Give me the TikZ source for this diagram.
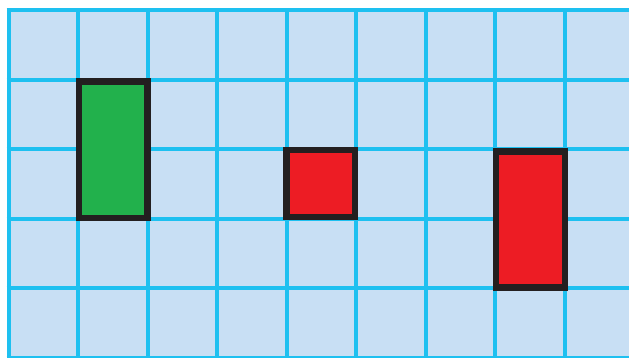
\documentclass[tikz,border=0pt]{standalone}
\definecolor{cellfill}{HTML}{C8DFF4}
\definecolor{gridline}{HTML}{1EC0F0}
\definecolor{boxgreen}{HTML}{22B14C}
\definecolor{boxred}{HTML}{ED1C24}
\definecolor{boxedge}{HTML}{231F20}
\tikzset{
  gridstroke/.style={draw=gridline, line width=4pt},
  blockbox/.style={draw=boxedge, line width=6.5pt},
}
\begin{document}
\begin{tikzpicture}[x=1pt,y=-1pt]
\useasboundingbox (0,0) rectangle (629,357);
\begin{scope}
\clip (0,0) rectangle (629,357);
\fill[cellfill] (6.5,8) rectangle (629,360);
\foreach \k in {0,...,8} {
  \draw[gridstroke] (8.5+69.5*\k,8) -- (8.5+69.5*\k,360);
}
\foreach \k in {0,...,5} {
  \draw[gridstroke] (6.5,10+69.5*\k) -- (629,10+69.5*\k);
}
\end{scope}
\draw[blockbox, fill=boxgreen] (79,81.5) rectangle (147.7,218);
\draw[blockbox, fill=boxred] (286.7,150) rectangle (355,217);
\draw[blockbox, fill=boxred] (496,151.7) rectangle (565,287.5);
\end{tikzpicture}
\end{document}
